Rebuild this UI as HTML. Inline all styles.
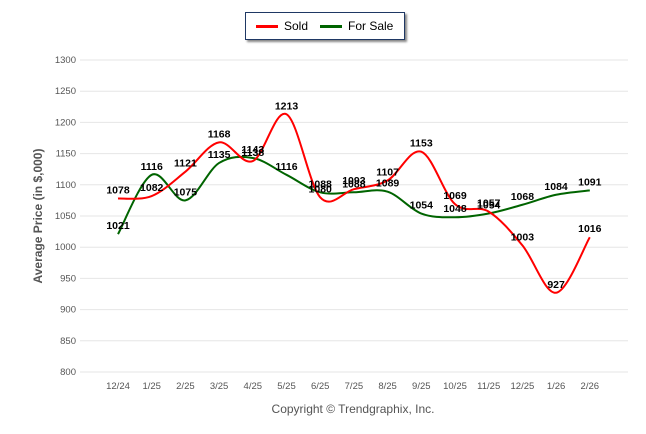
<!DOCTYPE html>
<html><head><meta charset="utf-8"><style>
body{margin:0;background:#fff;font-family:"Liberation Sans",sans-serif}
#legend{position:absolute;left:245px;top:12px;width:158px;height:26px;border:1px solid #1f3864;box-shadow:2px 2px 2px #888;background:#fff;font-size:12px}
</style></head><body>
<div id="legend">
<div style="position:absolute;left:10px;top:6px"><span style="display:inline-block;width:22px;height:3px;background:#f00;vertical-align:middle;margin-right:6px"></span>Sold</div>
<div style="position:absolute;left:74px;top:6px"><span style="display:inline-block;width:22px;height:3px;background:#006400;vertical-align:middle;margin-right:6px"></span>For Sale</div>
</div>
<svg id="chart" width="646" height="434" style="position:absolute;left:0;top:0;z-index:-1"></svg>
<script>
const categories=["12/24","1/25","2/25","3/25","4/25","5/25","6/25","7/25","8/25","9/25","10/25","11/25","12/25","1/26","2/26"];
const sold=[1078,1082,1121,1168,1138,1213,1080,1093,1107,1153,1069,1057,1003,927,1016];
const forSale=[1021,1116,1075,1135,1143,1116,1088,1088,1089,1054,1048,1054,1068,1084,1091];
const yTicks=[800,850,900,950,1000,1050,1100,1150,1200,1250,1300];
const svg=document.getElementById('chart');const NS='http://www.w3.org/2000/svg';
const x=i=>118+i*33.7, y=v=>372-(v-800)*312/500;
function mk(t,a,txt){const e=document.createElementNS(NS,t);for(const k in a)e.setAttribute(k,a[k]);if(txt!=null)e.textContent=txt;svg.appendChild(e);return e;}
yTicks.forEach(v=>{
 const l=mk('line',{x1:80,x2:628,y1:y(v),y2:y(v),stroke:'#e6e6e6'});
 
 
 const t=mk('text',{x:76,y:y(v)+3,'text-anchor':'end','font-size':9.5,fill:'#555'},v);
 
 
});
categories.forEach((c,i)=>{
 const t=mk('text',{x:x(i),y:389,'text-anchor':'middle','font-size':9.5,fill:'#555'},c);
 
 
});
function path(vals){const p=vals.map((v,i)=>[x(i),y(v)]);let d='M'+p[0];
 for(let i=0;i<p.length-1;i++){const p0=p[i-1]||p[i],p1=p[i],p2=p[i+1],p3=p[i+2]||p2;
 d+=' C'+(p1[0]+(p2[0]-p0[0])/6)+','+(p1[1]+(p2[1]-p0[1])/6)+' '+(p2[0]-(p3[0]-p1[0])/6)+','+(p2[1]-(p3[1]-p1[1])/6)+' '+p2;}return d;}
const g=mk('path',{d:path(forSale),fill:'none',stroke:'#006400','stroke-width':2});


const r=mk('path',{d:path(sold),fill:'none',stroke:'#f00','stroke-width':2});


[forSale,sold].forEach((s,k)=>s.forEach((v,i)=>{
 const t=mk('text',{x:x(i),y:y(v)-5,'text-anchor':'middle','font-size':10.5,'font-weight':'bold',fill:'#000'},v);
 
 
}));
const yt=mk('text',{x:42,y:216,'text-anchor':'middle','font-size':12,'font-weight':'bold',fill:'#555',transform:'rotate(-90 42 216)'},'Average Price (in $,000)');


const cp=mk('text',{x:353,y:413,'text-anchor':'middle','font-size':12,fill:'#555'},'Copyright © Trendgraphix, Inc.');


</script>
</body></html>
